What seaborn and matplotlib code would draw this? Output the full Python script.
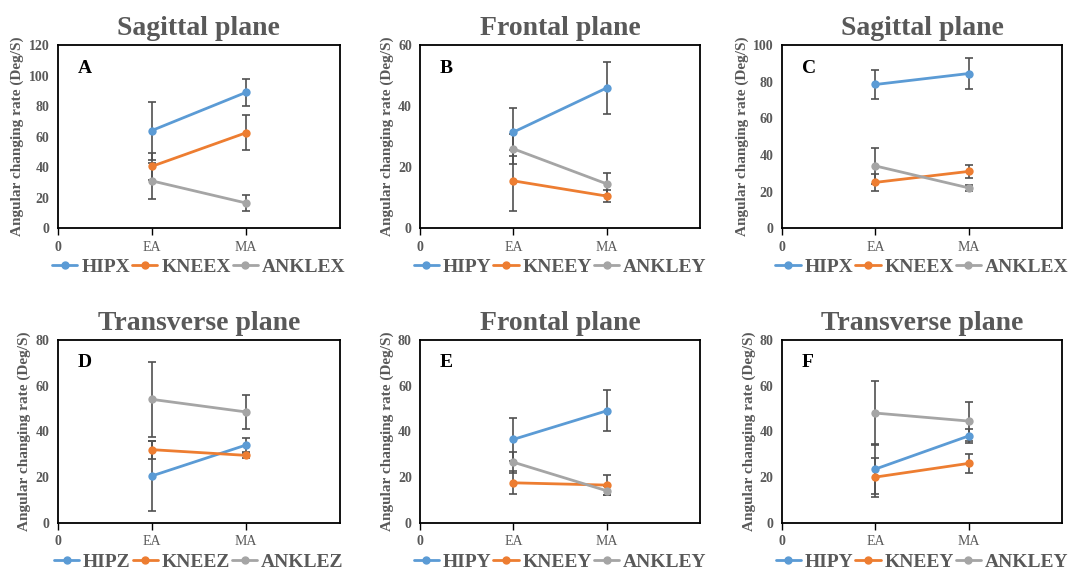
import numpy as np
import pandas as pd
import matplotlib.pyplot as plt
import seaborn as sns

# phases on the x axis (x=0 is just the axis origin labelled "0")
phases = ['EA', 'MA']
phase_x = [1, 2]

titles = ['Sagittal plane', 'Frontal plane', 'Sagittal plane',
          'Transverse plane', 'Frontal plane', 'Transverse plane']
letters = ['A', 'B', 'C', 'D', 'E', 'F']
ymax = [120, 60, 100, 80, 80, 80]
ystep = [20, 20, 20, 20, 20, 20]

# series labels per panel
a_labels = ['HIPX', 'KNEEX', 'ANKLEX']
b_labels = ['HIPY', 'KNEEY', 'ANKLEY']
c_labels = ['HIPX', 'KNEEX', 'ANKLEX']
d_labels = ['HIPZ', 'KNEEZ', 'ANKLEZ']
e_labels = ['HIPY', 'KNEEY', 'ANKLEY']
f_labels = ['HIPY', 'KNEEY', 'ANKLEY']

# means (EA, MA) for hip, knee, ankle
a_means = [[64, 89], [40.5, 62.5], [31, 16.5]]
b_means = [[31.5, 46], [15.5, 10.5], [26, 14.5]]
c_means = [[78.5, 84.5], [25, 31], [34, 22]]
d_means = [[20.5, 34], [32, 29.5], [54, 48.5]]
e_means = [[36.5, 49], [17.5, 16.5], [26.5, 14]]
f_means = [[23.5, 38], [20, 26], [48, 44.5]]

# standard deviations (EA, MA)
a_sds = [[19, 9], [9, 11.5], [12, 5]]
b_sds = [[8, 8.5], [10, 2], [5, 3.5]]
c_sds = [[8, 8.5], [4.5, 3.5], [10, 1.5]]
d_sds = [[15.5, 3], [4, 1], [16.5, 7.5]]
e_sds = [[9.5, 9], [5, 4.5], [4.5, 2]]
f_sds = [[11, 3], [8.5, 4], [14, 8.5]]

all_labels = [a_labels, b_labels, c_labels, d_labels, e_labels, f_labels]
all_means = [a_means, b_means, c_means, d_means, e_means, f_means]
all_sds = [a_sds, b_sds, c_sds, d_sds, e_sds, f_sds]

colors = ['#5B9BD5', '#ED7D31', '#A5A5A5']
text_gray = '#595959'

sns.set_style('white')
plt.rcParams['font.family'] = ['Liberation Serif', 'DejaVu Serif']
plt.rcParams['font.weight'] = 'bold'

fig = plt.figure(figsize=(10.69, 5.79), dpi=100)

lefts = [0.054, 0.393, 0.7315]
bottoms = [0.606, 0.097]
width, height = 0.264, 0.316

for i in range(6):
    row, col = divmod(i, 3)
    ax = fig.add_axes([lefts[col], bottoms[row], width - (0.002 if col else 0), height])

    rows = []
    for lab, m, s in zip(all_labels[i], all_means[i], all_sds[i]):
        for ph, x, mv, sv in zip(phases, phase_x, m, s):
            rows.append({'series': lab, 'phase': ph, 'x': x, 'mean': mv, 'sd': sv})
    df = pd.DataFrame(rows)

    # error bars first so lines sit on top
    for lab in all_labels[i]:
        sub = df[df['series'] == lab]
        ax.errorbar(sub['x'], sub['mean'], yerr=sub['sd'], fmt='none',
                    ecolor='#505050', elinewidth=1.2, capsize=3, capthick=1.2, zorder=2)

    sns.lineplot(data=df, x='x', y='mean', hue='series', hue_order=all_labels[i],
                 palette=colors, marker='o', markersize=6, markeredgewidth=0,
                 linewidth=2, ax=ax, zorder=3, legend=False)

    ax.set_xlim(0, 3)
    ax.set_ylim(0, ymax[i])
    ax.set_xticks([0] + phase_x)
    ax.set_xticklabels(['0'] + phases)
    ax.set_yticks(np.arange(0, ymax[i] + 1, ystep[i]))
    ax.tick_params(axis='x', direction='out', length=5, width=1, color='black',
                   labelsize=10, labelcolor=text_gray, pad=4, bottom=True)
    ax.tick_params(axis='y', length=0, labelsize=10, labelcolor=text_gray, pad=6)
    for t in ax.get_yticklabels():
        t.set_fontweight('bold')
    xt = ax.get_xticklabels()
    xt[0].set_fontweight('bold')
    for t in xt[1:]:
        t.set_fontweight('normal')
    for sp in ax.spines.values():
        sp.set_visible(True)
        sp.set_color('black')
        sp.set_linewidth(1.3)

    ax.set_xlabel('')
    ax.set_ylabel('Angular changing rate (Deg/S)', fontsize=11, fontweight='bold',
                  color=text_gray, labelpad=3)
    ax.set_title(titles[i], fontsize=20, fontweight='bold', color=text_gray, pad=7)
    ax.text(0.07, 0.85, letters[i], transform=ax.transAxes, fontsize=14,
            fontweight='bold', color='black')

    handles = [plt.Line2D([], [], color=c, marker='o', markersize=5, linewidth=2)
               for c in colors]
    leg = ax.legend(handles, all_labels[i], loc='center', bbox_to_anchor=(0.5, -0.215),
                    ncol=3, frameon=False, handlelength=1.3, handletextpad=0.2,
                    columnspacing=0.1, borderaxespad=0,
                    prop={'size': 14, 'weight': 'bold'})
    for t in leg.get_texts():
        t.set_color(text_gray)

fig.savefig('out.png', dpi=100, facecolor='white')
